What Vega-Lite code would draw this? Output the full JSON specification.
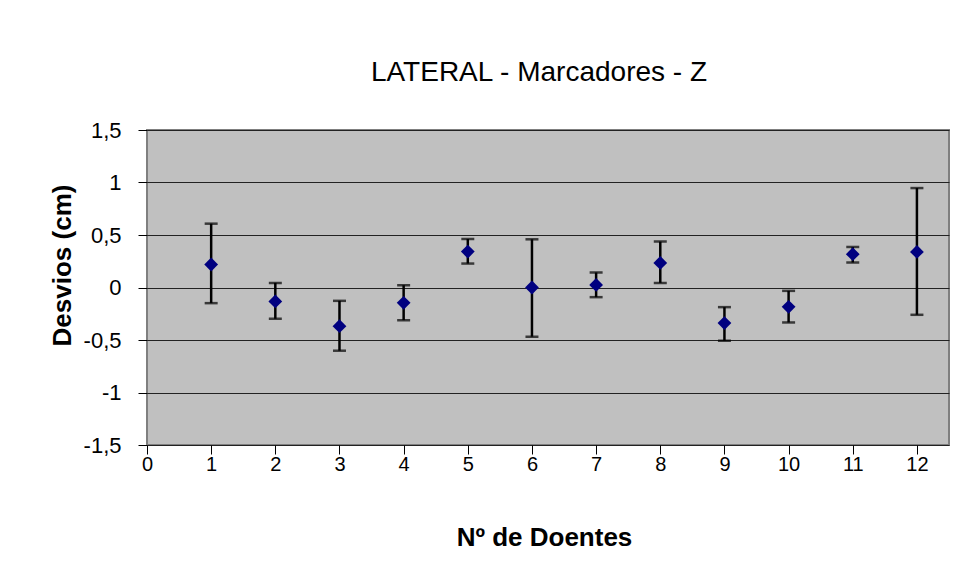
{
  "$schema": "https://vega.github.io/schema/vega-lite/v6.json",
  "width": 802,
  "height": 315,
  "autosize": {"type": "none"},
  "padding": {"left": 147, "top": 130, "right": 28, "bottom": 133},
  "background": "white",
  "config": {
    "font": "Liberation Sans",
    "view": {"fill": "#C0C0C0", "stroke": "#7f7f7f", "strokeWidth": 2},
    "axis": {
      "labelFont": "Liberation Sans",
      "titleFont": "Liberation Sans",
      "labelColor": "black",
      "titleColor": "black",
      "tickColor": "black",
      "tickSize": 9,
      "tickWidth": 1,
      "domain": false,
      "labelFontSize": 20,
      "titleFontSize": 26,
      "titleFontWeight": "bold"
    }
  },
  "title": {
    "text": "LATERAL - Marcadores - Z",
    "font": "Liberation Sans",
    "fontSize": 28,
    "fontWeight": "normal",
    "color": "black",
    "frame": "group",
    "anchor": "middle",
    "baseline": "alphabetic",
    "offset": 10,
    "dx": -9
  },
  "data": {
    "values": [
      {"n": 1, "d": 0.219, "lo": -0.149, "hi": 0.608},
      {"n": 2, "d": -0.133, "lo": -0.298, "hi": 0.044},
      {"n": 3, "d": -0.368, "lo": -0.602, "hi": -0.127},
      {"n": 4, "d": -0.146, "lo": -0.311, "hi": 0.022},
      {"n": 5, "d": 0.342, "lo": 0.228, "hi": 0.462},
      {"n": 6, "d": 0.0, "lo": -0.469, "hi": 0.459},
      {"n": 7, "d": 0.025, "lo": -0.092, "hi": 0.143},
      {"n": 8, "d": 0.234, "lo": 0.044, "hi": 0.437},
      {"n": 9, "d": -0.339, "lo": -0.507, "hi": -0.187},
      {"n": 10, "d": -0.184, "lo": -0.333, "hi": -0.032},
      {"n": 11, "d": 0.317, "lo": 0.238, "hi": 0.386},
      {"n": 12, "d": 0.339, "lo": -0.26, "hi": 0.947}
    ]
  },
  "encoding": {
    "x": {
      "field": "n",
      "type": "quantitative",
      "scale": {"domain": [0, 12.5], "nice": false, "zero": false},
      "axis": {
        "values": [0, 1, 2, 3, 4, 5, 6, 7, 8, 9, 10, 11, 12],
        "grid": false,
        "title": "Nº de Doentes",
        "labelPadding": 0,
        "labelFlush": false,
        "titleX": 397,
        "titleY": 92,
        "titleBaseline": "middle",
        "titleAnchor": "middle"
      }
    }
  },
  "layer": [
    {
      "mark": {"type": "rule", "color": "black", "strokeWidth": 2.5},
      "encoding": {
        "y": {
          "field": "lo",
          "type": "quantitative",
          "scale": {"domain": [-1.5, 1.5], "nice": false, "zero": false},
          "axis": {
            "values": [-1.5, -1, -0.5, 0, 0.5, 1, 1.5],
            "grid": true,
            "gridColor": "#222222",
            "gridWidth": 1,
            "gridOpacity": 1,
            "title": "Desvios  (cm)",
            "labelPadding": 17,
            "labelFontSize": 22,
            "labelFlush": false,
            "labelExpr": "replace(replace(format(datum.value, '.1~f'), '\u2212', '-'), '.', ',')",
            "titleX": -85,
            "titleY": 135,
            "titleBaseline": "middle",
            "titleAnchor": "middle"
          }
        },
        "y2": {"field": "hi"}
      }
    },
    {
      "mark": {"type": "tick", "orient": "horizontal", "color": "black", "size": 13, "thickness": 2.5},
      "encoding": {"y": {"field": "lo", "type": "quantitative"}}
    },
    {
      "mark": {"type": "tick", "orient": "horizontal", "color": "black", "size": 13, "thickness": 2.5},
      "encoding": {"y": {"field": "hi", "type": "quantitative"}}
    },
    {
      "mark": {"type": "point", "shape": "diamond", "filled": true, "color": "#000080", "size": 190, "opacity": 1},
      "encoding": {"y": {"field": "d", "type": "quantitative"}}
    }
  ]
}
